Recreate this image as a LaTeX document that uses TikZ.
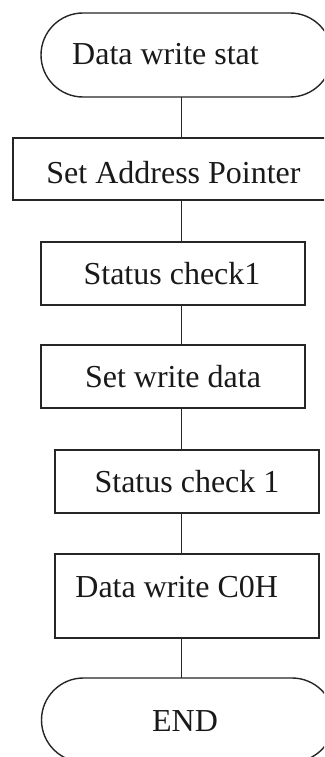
\documentclass[tikz,border=0pt]{standalone}
\usepackage{fontspec}
\setmainfont{Liberation Serif}
\begin{document}
\begin{tikzpicture}[x=1pt,y=1pt]
\tikzset{
  ln/.style={line width=1.4pt, draw=black!85},
  txt/.style={font=\fontsize{32}{38}\selectfont, text height=21.2pt, text depth=0pt, inner sep=0pt, text=black!90},
  stepbox/.style={ln, rectangle, inner sep=0pt, outer sep=0pt},
  term/.style={rectangle, inner sep=0pt, outer sep=0pt, minimum width=#1, minimum height=84pt},
}
\useasboundingbox (0,0) rectangle (324,-757);
\clip (0,0) rectangle (324,-757);
\fill[white] (0,0) rectangle (324,-757);
\coordinate (axis) at (181.5,0);

\node[term=291pt, label={[txt, xshift=-21pt, yshift=1pt]center:Data write stat}] (t1) at (186.5,-55) {};
\node[stepbox, minimum width=322pt, minimum height=62pt, label={[txt, xshift=-0.5pt, yshift=-3.5pt]center:Set Address Pointer}] (b2) at (174,-169) {};
\node[stepbox, minimum width=264pt, minimum height=63pt, label={[txt, xshift=-1pt, yshift=-0.5pt]center:Status check1}] (b3) at (173,-273.5) {};
\node[stepbox, minimum width=264pt, minimum height=63pt, label={[txt]center:Set write data}] (b4) at (173,-376.5) {};
\node[stepbox, minimum width=264pt, minimum height=63pt, label={[txt, yshift=-0.5pt]center:Status check 1}] (b5) at (187,-481.5) {};
\node[stepbox, minimum width=264pt, minimum height=84pt, label={[txt, xshift=-10.3pt, yshift=9pt]center:Data write C0H}] (b6) at (187,-596) {};
\node[term=292.5pt, label={[txt, xshift=-2.75pt, yshift=-1pt]center:END}] (t7) at (187.75,-720) {};

% terminal outlines (semicircular ends)
\foreach \t in {t1,t7}{
  \draw[ln] ([xshift=42pt]\t.north west) -- ([xshift=-42pt]\t.north east)
    arc[start angle=90, end angle=-90, radius=42pt]
    -- ([xshift=42pt]\t.south west)
    arc[start angle=270, end angle=90, radius=42pt] -- cycle;
}

% connectors
\draw[ln] (t1.south -| axis) -- (b2.north -| axis);
\draw[ln] (b2.south -| axis) -- (b3.north -| axis);
\draw[ln] (b3.south -| axis) -- (b4.north -| axis);
\draw[ln] (b4.south -| axis) -- (b5.north -| axis);
\draw[ln] (b5.south -| axis) -- (b6.north -| axis);
\draw[ln] (b6.south -| axis) -- (t7.north -| axis);
\end{tikzpicture}
\end{document}
